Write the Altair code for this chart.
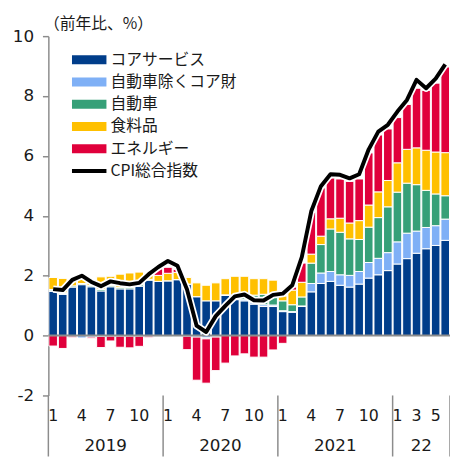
import altair as alt
import pandas as pd

# ---- data (contributions, %pt; CPI y/y %) ----
series_names = ["コアサービス", "自動車除くコア財", "自動車", "食料品", "エネルギー"]
series_colors = ["#003D8A", "#7FB0F6", "#36A078", "#FFC000", "#E0003B"]

core_services = [1.48, 1.38, 1.62, 1.70, 1.63, 1.49, 1.63, 1.56, 1.56, 1.65, 1.85, 1.81,
                 1.83, 1.87, 1.72, 1.30, 1.16, 1.16, 1.34, 1.20, 1.16, 1.05, 0.97, 0.97,
                 0.80, 0.78, 0.97, 1.46, 1.74, 1.81, 1.68, 1.62, 1.72, 1.92, 2.03, 2.17,
                 2.39, 2.57, 2.75, 2.90, 3.01, 3.18]
core_goods_ex_auto = [0.02, 0.02, -0.02, -0.08, -0.05, -0.03, -0.02, -0.02, -0.02, -0.02, -0.02, 0.00,
                      0.00, 0.00, -0.02, -0.05, -0.08, -0.03, 0.00, 0.03, 0.04, 0.05, 0.06, 0.05,
                      0.03, 0.02, 0.02, 0.28, 0.35, 0.33, 0.35, 0.39, 0.42, 0.52, 0.55, 0.60,
                      0.74, 0.85, 0.74, 0.71, 0.66, 0.71]
autos = [0.04, 0.03, 0.04, 0.04, 0.04, 0.05, 0.05, 0.05, 0.05, 0.05, 0.03, -0.02,
         -0.02, 0.00, 0.00, 0.00, -0.03, -0.02, 0.02, 0.12, 0.18, 0.25, 0.35, 0.38,
         0.33, 0.23, 0.30, 0.68, 0.95, 1.42, 1.42, 1.22, 1.07, 1.18, 1.36, 1.53,
         1.66, 1.67, 1.55, 1.24, 1.06, 0.78]
food = [0.40, 0.48, 0.15, 0.15, 0.15, 0.42, 0.30, 0.44, 0.48, 0.42, 0.20, 0.20,
        0.25, 0.24, 0.22, 0.46, 0.52, 0.60, 0.54, 0.63, 0.60, 0.55, 0.52, 0.45,
        0.16, 0.49, 0.49, 0.30, 0.28, 0.34, 0.47, 0.53, 0.63, 0.74, 0.86, 0.88,
        0.98, 1.13, 1.23, 1.34, 1.40, 1.44]
energy = [-0.35, -0.43, -0.05, 0.06, -0.04, -0.37, -0.16, -0.37, -0.39, -0.34, -0.05, 0.22,
          0.20, 0.10, -0.45, -1.44, -1.48, -1.12, -0.92, -0.68, -0.61, -0.72, -0.72, -0.48,
          -0.26, 0.10, 0.64, 1.39, 1.61, 1.36, 1.31, 1.39, 1.39, 1.74, 1.90, 1.72,
          1.51, 1.50, 1.99, 2.00, 2.30, 2.86]
cpi = [1.55, 1.52, 1.86, 2.00, 1.79, 1.65, 1.81, 1.75, 1.71, 1.76, 2.05, 2.29,
       2.49, 2.33, 1.54, 0.33, 0.12, 0.65, 0.99, 1.31, 1.37, 1.18, 1.17, 1.36,
       1.40, 1.68, 2.62, 4.16, 4.99, 5.39, 5.37, 5.25, 5.39, 6.22, 6.81, 7.04,
       7.48, 7.87, 8.54, 8.26, 8.58, 9.06]

tick_month_index = [0, 3, 6, 9, 12, 15, 18, 21, 24, 27, 30, 33, 36, 38, 40]
tick_month_label = ["1", "4", "7", "10", "1", "4", "7", "10", "1", "4", "7", "10", "1", "3", "5"]
year_labels = ["2019", "2020", "2021", "22"]
year_start = [0, 12, 24, 36]
year_end = [12, 24, 36, 42]
cpi_name = "CPI総合指数"

# ---- tables ----
all_series = [core_services, core_goods_ex_auto, autos, food, energy]
rows = []
for k, (name, vals) in enumerate(zip(series_names, all_series)):
    for i, v in enumerate(vals):
        rows.append({"i": i, "series": name, "ord": k, "value": v})
bars_df = pd.DataFrame(rows)
cpi_df = pd.DataFrame({"i": list(range(len(cpi))), "cpi": cpi})
mlab_df = pd.DataFrame({"i": tick_month_index, "label": tick_month_label})
year_df = pd.DataFrame({"label": year_labels, "start": year_start, "end": year_end})
sep_df = pd.DataFrame({"b": [0] + year_end})

W, H = 408, 365
FONT_NUM = "DejaVu Sans"
FONT_JP = "Noto Sans CJK JP"
GREY = "#8C8C8C"

xscale = alt.Scale(domain=[0, 42], nice=False, zero=False)
yscale = alt.Scale(domain=[-2, 10], nice=False, zero=False)

bars = (
    alt.Chart(bars_df)
    .transform_stack(stack="value", groupby=["i"], as_=["y0", "y1"],
                     sort=[alt.SortField("ord", order="ascending")])
    .transform_calculate(x0="datum.i + 0.05", x1="datum.i + 0.95")
    .mark_bar(stroke="white", strokeWidth=1)
    .encode(
        x=alt.X("x0:Q", scale=xscale, axis=None),
        x2="x1:Q",
        y=alt.Y("y0:Q", scale=yscale,
                axis=alt.Axis(values=[-2, 0, 2, 4, 6, 8, 10], grid=False,
                              labelExpr="'' + datum.value",
                              domainColor=GREY, domainWidth=1.5,
                              tickColor=GREY, tickSize=6, tickWidth=1.5,
                              labelFontSize=17, labelFont=FONT_NUM, labelColor="#1a1a1a",
                              labelPadding=9,
                              title="（前年比、%）", titleAngle=0, titleAlign="left",
                              titleBaseline="middle", titleX=-5, titleY=-13,
                              titleFont=FONT_JP, titleFontSize=16, titleFontWeight="normal",
                              titleColor="#1a1a1a")),
        y2="y1:Q",
        color=alt.Color("series:N", scale=alt.Scale(domain=series_names, range=series_colors),
                        legend=None),
    )
)

zero_rule = alt.Chart(pd.DataFrame({"v": [0]})).mark_rule(color=GREY, strokeWidth=2).encode(y="v:Q")

line_halo = (
    alt.Chart(cpi_df).transform_calculate(xc="datum.i + 0.5")
    .mark_line(color="white", strokeWidth=7.5, strokeJoin="round")
    .encode(x="xc:Q", y="cpi:Q")
)
line = (
    alt.Chart(cpi_df).transform_calculate(xc="datum.i + 0.5")
    .mark_line(color="black", strokeWidth=4, strokeJoin="round")
    .encode(x="xc:Q", y="cpi:Q")
)

seps = (
    alt.Chart(sep_df).mark_rule(color=GREY, strokeWidth=1.5)
    .encode(x="b:Q", y=alt.value(H), y2=alt.value(H + 62))
)

month_text = (
    alt.Chart(mlab_df).transform_calculate(xc="datum.i + 0.5")
    .mark_text(fontSize=16, font=FONT_NUM, color="#1a1a1a", baseline="middle")
    .encode(x="xc:Q", y=alt.value(H + 21), text="label:N")
)
year_text = (
    alt.Chart(year_df).transform_calculate(xc="(datum.start + datum.end) / 2")
    .mark_text(fontSize=17, font=FONT_NUM, color="#1a1a1a", baseline="middle")
    .encode(x="xc:Q", y=alt.value(H + 51), text="label:N")
)

# ---- legend (manual) ----
legend_layers = []
for k, (name, col) in enumerate(zip(series_names, series_colors)):
    yc = 24 + k * 22.6
    d = pd.DataFrame({"n": [name]})
    legend_layers.append(
        alt.Chart(d).mark_rect(color=col).encode(
            x=alt.value(24), x2=alt.value(59), y=alt.value(yc - 4.5), y2=alt.value(yc + 4.5)))
    legend_layers.append(
        alt.Chart(d).mark_text(align="left", baseline="middle", fontSize=16, font=FONT_JP,
                               color="#1a1a1a")
        .encode(x=alt.value(63), y=alt.value(yc), text="n:N"))
yc = 24 + 5 * 22.6
dl = pd.DataFrame({"n": [cpi_name]})
legend_layers.append(
    alt.Chart(dl).mark_rule(color="black", strokeWidth=4)
    .encode(x=alt.value(24), x2=alt.value(59), y=alt.value(yc)))
legend_layers.append(
    alt.Chart(dl).mark_text(align="left", baseline="middle", fontSize=16, font=FONT_JP,
                            color="#1a1a1a")
    .encode(x=alt.value(63), y=alt.value(yc), text="n:N"))

chart = (
    alt.layer(bars, zero_rule, line_halo, line, seps, month_text, year_text, *legend_layers)
    .properties(width=W, height=H, autosize="none",
                padding={"left": 41, "top": 25, "right": 0, "bottom": 64})
    .configure_view(stroke=None)
)

chart.save("out.html", embed_options={"renderer": "svg", "actions": False})
